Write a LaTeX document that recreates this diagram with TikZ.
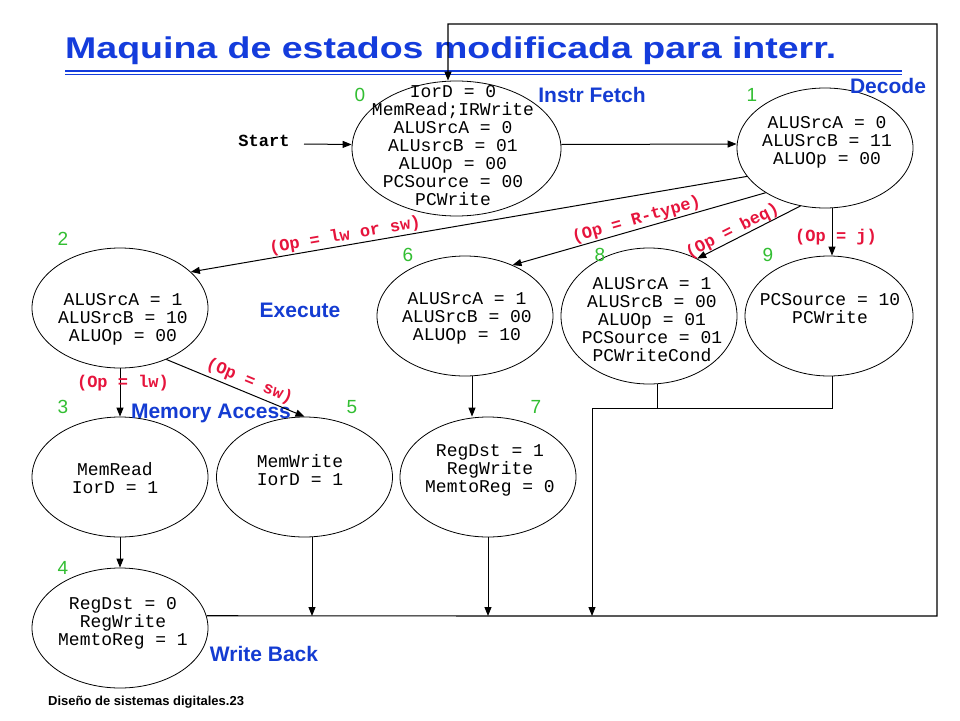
\documentclass[tikz,border=0pt]{standalone}
\usepackage{fontspec}
\setmainfont{Liberation Sans}
\newfontfamily\monofont{Liberation Mono}
\usetikzlibrary{shapes.geometric,arrows.meta}
\definecolor{titleblue}{RGB}{20,60,220}
\definecolor{phaseblue}{RGB}{20,60,210}
\definecolor{numgreen}{RGB}{50,190,50}
\definecolor{condred}{RGB}{230,20,60}
\begin{document}
\begin{tikzpicture}[x=1pt,y=-1pt,
  state/.style={draw, ellipse, line width=0.8pt, inner sep=0pt},
  stext/.style={font=\monofont\fontsize{18}{18}\selectfont, align=center, inner sep=0pt},
  num/.style={font=\fontsize{19}{19}\selectfont, text=numgreen, inner sep=0pt},
  phase/.style={font=\bfseries\fontsize{21}{21}\selectfont, text=phaseblue, inner sep=0pt},
  cond/.style={font=\monofont\bfseries\fontsize{17}{17}\selectfont, text=condred, inner sep=1pt},
  arr/.style={-{Triangle[length=9pt,width=7pt]}, line width=1pt},
  wire/.style={line width=1pt},
]
\fill[white] (0,0) rectangle (960,720);
\useasboundingbox (0,0) rectangle (960,720);

% title
\node[anchor=base west, text=titleblue, inner sep=0pt] (title) at (65,58)
  {\scalebox{1.25}[1]{\fontsize{30}{30}\selectfont\bfseries Maquina de estados modificada para interr.}};
\draw[titleblue, line width=2.2pt] (65,71) -- (902,71);
\draw[titleblue, line width=1pt] (65,74.5) -- (902,74.5);

% states
\node[state, minimum width=209pt, minimum height=135pt] (s0) at (456.5,148.5) {};
\node[state, minimum width=176pt, minimum height=120pt] (s1) at (825,148) {};
\node[state, minimum width=176pt, minimum height=120pt] (s2) at (120,308) {};
\node[state, minimum width=176pt, minimum height=120pt] (s6) at (465,316) {};
\node[state, minimum width=176pt, minimum height=136pt] (s8) at (649,316) {};
\node[state, minimum width=168pt, minimum height=120pt] (s9) at (829,316) {};
\node[state, minimum width=176pt, minimum height=120pt] (s3) at (120,477) {};
\node[state, minimum width=176pt, minimum height=120pt] (s5) at (304.5,477) {};
\node[state, minimum width=176pt, minimum height=120pt] (s7) at (488,477) {};
\node[state, minimum width=176pt, minimum height=120pt] (s4) at (120,628) {};

% state texts
\node[stext] (t0) at (453,146) {IorD = 0\\MemRead;IRWrite\\ALUSrcA = 0\\ALUsrcB = 01\\ALUOp = 00\\PCSource = 00\\PCWrite};
\node[stext] (t1) at (827,142) {ALUSrcA = 0\\ALUSrcB = 11\\ALUOp = 00};
\node[stext] (t2) at (123,319) {ALUSrcA = 1\\ALUSrcB = 10\\ALUOp = 00};
\node[stext] (t6) at (467,318.5) {ALUSrcA = 1\\ALUSrcB = 00\\ALUOp = 10};
\node[stext] (t8) at (652,320) {ALUSrcA = 1\\ALUSrcB = 00\\ALUOp = 01\\PCSource = 01\\PCWriteCond};
\node[stext] (t9) at (830,309) {PCSource = 10\\PCWrite};
\node[stext] (t3) at (115,478) {MemRead\\IorD = 1};
\node[stext] (t5) at (300,470) {MemWrite\\IorD = 1};
\node[stext] (t7) at (490,470) {RegDst = 1\\RegWrite\\MemtoReg = 0};
\node[stext] (t4) at (123,623) {RegDst = 0\\RegWrite\\MemtoReg = 1};

% state numbers
\node[num] (n0) at (360,95) {0};
\node[num] (n1) at (752,95) {1};
\node[num] (n2) at (63,239) {2};
\node[num] (n6) at (408,255) {6};
\node[num] (n8) at (600,255) {8};
\node[num] (n9) at (768,255) {9};
\node[num] (n3) at (63,407) {3};
\node[num] (n5) at (352,407) {5};
\node[num] (n7) at (536,407) {7};
\node[num] (n4) at (63,568) {4};

% phase labels
\node[phase] (pf) at (592,95) {Instr Fetch};
\node[phase] (pd) at (888,86) {Decode};
\node[phase] (pe) at (300,310) {Execute};
\node[phase] (pm) at (211,413) {Memory Access};
\node[phase] (pw) at (264,654) {Write Back};

% start
\node[font=\monofont\bfseries\fontsize{17}{17}\selectfont, inner sep=0pt] (start) at (264,141) {Start};
\coordinate (st) at (304,144);
\draw[arr] (st) -- ([yshift=4pt]s0.west);

% transitions
\draw[arr] ([yshift=4pt]s0.east) -- ([yshift=4pt]s1.west);
\draw[arr] (s1.200) -- (s2.27) node[cond, sloped, above, pos=0.72] {(Op = lw or sw)};
\draw[arr] (s1.217) -- (s6.47) node[cond, sloped, above, pos=0.5] {(Op = R-type)};
\draw[arr] (s1.247) -- (s8.50) node[cond, sloped, above, pos=0.62, inner sep=0pt] {(Op = beq)};
\draw[arr] ([xshift=7pt]s1.south) -- ([xshift=3pt]s9.north) node[cond, pos=0.6, xshift=4pt] {(Op = j)};
\draw[arr] (s2.south) -- (s3.north) node[cond, pos=0.3, xshift=3pt] {(Op = lw)};
\draw[arr] (s2.312) -- (s5.north) node[cond, sloped, above=2pt, pos=0.57] {(Op = sw)};
\draw[arr] ([xshift=7pt]s6.south) -- ([xshift=-16pt]s7.north);
\draw[arr] (s3.south) -- (s4.north);

% bus to write back line
\coordinate (m5) at (312,616);
\coordinate (m7) at (488,616);
\coordinate (m89) at (592,616);
\coordinate (j8) at (657,408);
\coordinate (j9) at (832,408);
\coordinate (j0) at (592,408);
\draw[arr] ([xshift=7.5pt]s5.south) -- (m5);
\draw[arr] (s7.south) -- (m7);
\draw[wire] ([xshift=8pt]s8.south) -- (j8);
\draw[wire] ([xshift=3pt]s9.south) -- (j9) -- (j0);
\draw[arr] (j0) -- (m89);

% return loop to fetch
\coordinate (r1) at (937,616);
\coordinate (r2) at (937,24);
\coordinate (r3) at (448,24);
\draw[arr, line width=1.2pt] (s4.8) -- (r1) -- (r2) -- (r3) -- ([xshift=-8.5pt]s0.north);

% footer
\node[anchor=base west, font=\bfseries\fontsize{13}{13}\selectfont, inner sep=0pt] (foot) at (48,705) {Diseño de sistemas digitales.23};
\end{tikzpicture}
\end{document}
